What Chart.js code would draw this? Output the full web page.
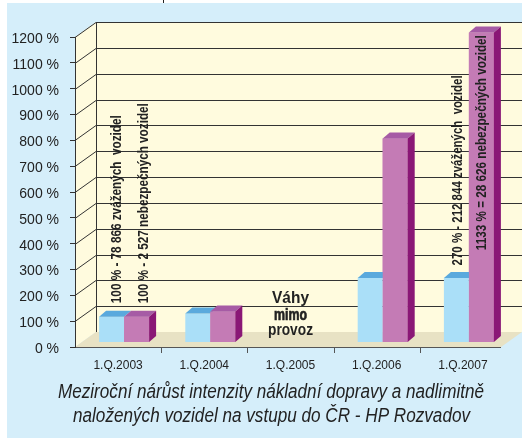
<!DOCTYPE html>
<html>
<head>
<meta charset="utf-8">
<script src="https://cdn.jsdelivr.net/npm/chart.js@4.4.1/dist/chart.umd.min.js"></script>
<style>
html,body{margin:0;padding:0;background:#ffffff;}
#wrap{width:522px;height:438px;position:relative;}
canvas{display:block;}
</style>
</head>
<body>
<div id="wrap"><canvas id="c" width="522" height="438"></canvas></div>
<script>
// ---------- data ----------
const categories = ['1.Q.2003', '1.Q.2004', '1.Q.2005', '1.Q.2006', '1.Q.2007'];
const weighedVehicles   = [100, 112, null, 250, 250];   // zvážená vozidla (%)
const dangerousVehicles = [100, 120, null, 790, 1200];  // nebezpečná vozidla (%)
const yTickValues = [0, 100, 200, 300, 400, 500, 600, 700, 800, 900, 1000, 1100, 1200];
const yTickLabels = ['0 %', '100 %', '200 %', '300 %', '400 %', '500 %', '600 %', '700 %', '800 %', '900 %', '1000 %', '1100 %', '1200 %'];
const noteTexts = [
  '100 % - 78 866 zvážených  vozidel',
  '100 % - 2 527 nebezpečných vozidel',
  '270 % - 212 844 zvážených  vozidel',
  '1133 % = 28 626 nebezpečných vozidel'
];
const offlineText = ['Váhy', 'mimo', 'provoz'];
const titleLines = [
  'Meziroční nárůst intenzity nákladní dopravy a nadlimitně',
  'naložených vozidel na vstupu do ČR - HP Rozvadov'
];

// ---------- style ----------
const COL = {
  bg: '#d5eefa', wall: '#fffbde', floor: '#e8e2c4', grid: '#333333',
  blueFront: '#aadff8', blueTop: '#5aa9dd',
  pinkFront: '#c47bb5', pinkTop: '#a65ba5', pinkSide: '#8a1776',
  text: '#222222'
};
const WALL_DX = 21, WALL_DY = -15;   // depth of the 3D box
const BAR_SHIFT_X = 6, BAR_SHIFT_Y = -4.5; // bars sit slightly back
const BAR_DX = 7, BAR_DY = -6;        // bar depth

function hasFont(name) {
  const c = document.createElement('canvas').getContext('2d');
  c.font = '40px monospace';
  const a = c.measureText('abcdefghijW1%').width;
  c.font = '40px "' + name + '", monospace';
  return c.measureText('abcdefghijW1%').width !== a;
}
const NARROW = hasFont('Liberation Sans Narrow');
const NARROW_FAM = NARROW ? '"Liberation Sans Narrow", "Liberation Sans", Arial, sans-serif' : '"Liberation Sans", Arial, sans-serif';
const SANS = '"Liberation Sans", Arial, sans-serif';

function fitText(ctx, text, x, y, width, align, strokeW) {
  const w = ctx.measureText(text).width;
  const s = width / w;
  ctx.save();
  ctx.translate(x, y);
  ctx.scale(s, 1);
  ctx.textAlign = align || 'center';
  ctx.fillText(text, 0, 0);
  if (strokeW) {
    ctx.strokeStyle = ctx.fillStyle;
    ctx.lineWidth = strokeW;
    ctx.strokeText(text, 0, 0);
  }
  ctx.restore();
}

function vText(ctx, text, cx, yBottom, length, font) {
  ctx.save();
  ctx.translate(cx, yBottom);
  ctx.rotate(-Math.PI / 2);
  ctx.font = font;
  const w = ctx.measureText(text).width;
  ctx.scale(length / w, 1);
  ctx.textAlign = 'left';
  ctx.textBaseline = 'middle';
  ctx.fillStyle = COL.text;
  ctx.fillText(text, 0, 0);
  ctx.restore();
}

const scenePlugin = {
  id: 'scene3d',
  beforeDraw(chart) {
    const ctx = chart.ctx;
    const xs = chart.scales.x, ys = chart.scales.y;
    const W = chart.width, H = chart.height;
    const L = xs.left, R = xs.right;
    const y0 = ys.getPixelForValue(0), yTop = ys.getPixelForValue(1200);
    ctx.save();
    ctx.fillStyle = '#ffffff';
    ctx.fillRect(0, 0, W, H);
    ctx.fillStyle = COL.bg;
    ctx.fillRect(7, 3, W - 7, H - 3);
    // small mark at top
    ctx.strokeStyle = '#222';
    ctx.lineWidth = 1;
    ctx.beginPath(); ctx.moveTo(163.5, 0); ctx.lineTo(163.5, 3); ctx.stroke();

    // left wall
    ctx.fillStyle = COL.wall;
    ctx.beginPath();
    ctx.moveTo(L, yTop); ctx.lineTo(L + WALL_DX, yTop + WALL_DY);
    ctx.lineTo(L + WALL_DX, y0 + WALL_DY); ctx.lineTo(L, y0);
    ctx.closePath(); ctx.fill();
    // back wall
    ctx.fillRect(L + WALL_DX, yTop + WALL_DY, W - (L + WALL_DX), y0 - yTop);
    // floor
    const floorR = R - 5;
    ctx.fillStyle = COL.floor;
    ctx.beginPath();
    ctx.moveTo(L, y0); ctx.lineTo(L + WALL_DX, y0 + WALL_DY);
    ctx.lineTo(floorR + WALL_DX, y0 + WALL_DY); ctx.lineTo(floorR, y0);
    ctx.closePath(); ctx.fill();

    // grid lines on back wall + diagonals on side wall
    ctx.strokeStyle = COL.grid;
    ctx.lineWidth = 1;
    yTickValues.forEach(v => {
      if (v === 0) return;
      const yf = Math.round(ys.getPixelForValue(v)) + 0.5;
      const yb = yf + WALL_DY;
      ctx.beginPath();
      ctx.moveTo(L + WALL_DX, yb); ctx.lineTo(W, yb);
      ctx.moveTo(L, yf); ctx.lineTo(L + WALL_DX, yb);
      ctx.stroke();
    });
    // back wall left edge
    ctx.beginPath();
    ctx.moveTo(L + WALL_DX + 0.5, yTop + WALL_DY);
    ctx.lineTo(L + WALL_DX + 0.5, y0 + WALL_DY);
    ctx.stroke();
    // x axis line and ticks
    ctx.strokeStyle = '#555555';
    ctx.beginPath();
    ctx.moveTo(L, Math.round(y0) + 0.5); ctx.lineTo(floorR, Math.round(y0) + 0.5);
    for (let i = 1; i < categories.length; i++) {
      const xb = Math.round((xs.getPixelForValue(i - 1) + xs.getPixelForValue(i)) / 2) + 0.5;
      ctx.moveTo(xb, y0); ctx.lineTo(xb, y0 + 6);
    }
    ctx.stroke();
    ctx.restore();
  },
  beforeDatasetsDraw(chart) {
    chart.ctx.save();
    chart.ctx.translate(BAR_SHIFT_X, BAR_SHIFT_Y);
  },
  afterDatasetsDraw(chart) {
    const ctx = chart.ctx;
    const blue = chart.getDatasetMeta(0).data;
    const pink = chart.getDatasetMeta(1).data;
    const face = (pts, col) => {
      ctx.fillStyle = col;
      ctx.beginPath();
      ctx.moveTo(pts[0][0], pts[0][1]);
      for (let i = 1; i < pts.length; i++) ctx.lineTo(pts[i][0], pts[i][1]);
      ctx.closePath(); ctx.fill();
    };
    for (let i = 0; i < categories.length; i++) {
      if (weighedVehicles[i] !== null) {
        const b = blue[i].getProps(['x', 'y', 'base', 'width'], true);
        const x0 = b.x - b.width / 2, x1 = b.x + b.width / 2;
        face([[x0, b.y], [x1, b.y], [x1 + BAR_DX, b.y + BAR_DY], [x0 + BAR_DX, b.y + BAR_DY]], COL.blueTop);
      }
      if (dangerousVehicles[i] !== null) {
        pink[i].draw(ctx);
        const p = pink[i].getProps(['x', 'y', 'base', 'width'], true);
        const x0 = p.x - p.width / 2, x1 = p.x + p.width / 2;
        face([[x0, p.y], [x1, p.y], [x1 + BAR_DX, p.y + BAR_DY], [x0 + BAR_DX, p.y + BAR_DY]], COL.pinkTop);
        face([[x1, p.y], [x1 + BAR_DX, p.y + BAR_DY], [x1 + BAR_DX, p.base + BAR_DY], [x1, p.base]], COL.pinkSide);
      }
    }
    ctx.restore();

    // annotations
    const xs = chart.scales.x, ys = chart.scales.y;
    const vfont = 'bold 14px ' + NARROW_FAM;
    const c0 = xs.getPixelForValue(0), c4 = xs.getPixelForValue(4), c2 = xs.getPixelForValue(2);
    vText(ctx, noteTexts[0], c0 - 0.5, ys.getPixelForValue(100) - 18, 188, vfont);
    vText(ctx, noteTexts[1], c0 + 26.5, ys.getPixelForValue(100) - 18, 200, vfont);
    vText(ctx, noteTexts[2], c4 - 4.5, ys.getPixelForValue(250) - 17, 190, vfont);
    vText(ctx, noteTexts[3], c4 + 19.5, ys.getPixelForValue(375), 215, vfont);

    ctx.save();
    ctx.fillStyle = COL.text;
    ctx.font = 'bold 17px ' + NARROW_FAM;
    ctx.textBaseline = 'alphabetic';
    fitText(ctx, offlineText[0], c2, 302.5, 37);
    fitText(ctx, offlineText[1], c2, 319.5, 33, 'center', 0.7);
    fitText(ctx, offlineText[2], c2, 335, 45);
    // title
    ctx.font = 'italic 20px ' + NARROW_FAM;
    fitText(ctx, titleLines[0], 271, 397.5, 426);
    fitText(ctx, titleLines[1], 271.5, 422, 397);
    ctx.restore();
  }
};

const ctxEl = document.getElementById('c');
new Chart(ctxEl, {
  type: 'bar',
  data: {
    labels: categories,
    datasets: [
      { label: 'zvážená vozidla', data: weighedVehicles, backgroundColor: COL.blueFront, borderWidth: 0 },
      { label: 'nebezpečná vozidla', data: dangerousVehicles, backgroundColor: COL.pinkFront, borderWidth: 0 }
    ]
  },
  options: {
    responsive: false,
    animation: false,
    devicePixelRatio: 1,
    layout: { padding: { left: 0, top: 37, right: 16, bottom: 0 } },
    datasets: { bar: { categoryPercentage: 0.58, barPercentage: 1.0 } },
    plugins: { legend: { display: false }, tooltip: { enabled: false }, title: { display: false } },
    scales: {
      x: {
        grid: { display: false, drawTicks: false },
        border: { display: false },
        ticks: { color: COL.text, font: { family: SANS, size: 12 }, padding: 11, maxRotation: 0, autoSkip: false },
        afterFit(s) { s.height = 91; }
      },
      y: {
        min: 0, max: 1200,
        afterBuildTicks(s) { s.ticks = yTickValues.map(v => ({ value: v })); },
        grid: { drawOnChartArea: false, drawTicks: true, tickLength: 5, color: '#333333', lineWidth: 1 },
        border: { display: true, color: '#333333', width: 1 },
        ticks: {
          color: COL.text,
          font: { family: NARROW_FAM, size: NARROW ? 16 : 14 },
          padding: 11,
          labelOffset: 2,
          callback: (v) => yTickLabels[yTickValues.indexOf(v)]
        },
        afterFit(s) { s.width = 75; }
      }
    }
  },
  plugins: [scenePlugin]
});
</script>
</body>
</html>
